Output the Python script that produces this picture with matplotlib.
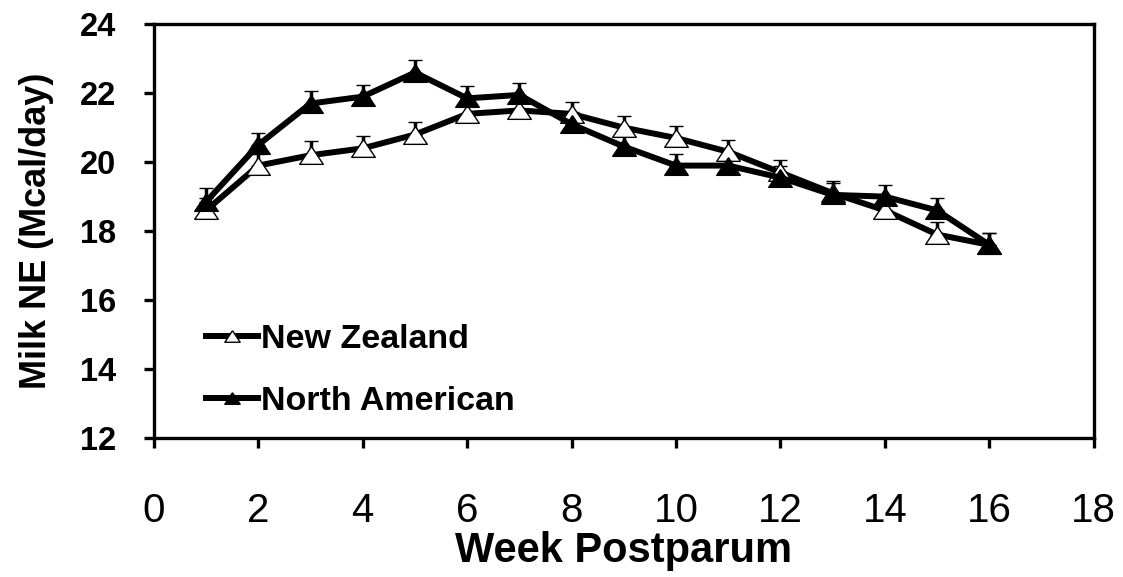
import numpy as np
import matplotlib.pyplot as plt

plt.rcParams['font.family'] = ['Liberation Sans', 'DejaVu Sans']

# Data
weeks = np.arange(1, 17)
nz_milk = [18.6, 19.9, 20.2, 20.4, 20.8, 21.4, 21.5, 21.4, 21.0, 20.7, 20.3, 19.7, 19.1, 18.6, 17.9, 17.6]
nz_err = [0.35, 0.35, 0.4, 0.35, 0.35, 0.35, 0.35, 0.35, 0.35, 0.35, 0.35, 0.35, 0.35, 0.35, 0.35, 0.35]
na_milk = [18.85, 20.5, 21.7, 21.9, 22.6, 21.85, 21.95, 21.1, 20.45, 19.9, 19.9, 19.55, 19.05, 19.0, 18.6, 17.6]
na_err = [0.4, 0.35, 0.35, 0.35, 0.35, 0.35, 0.35, 0.35, 0.35, 0.35, 0.35, 0.35, 0.35, 0.35, 0.35, 0.35]

# wide, flat triangle like the original markers
tri = [(0, 0.75), (-1, -0.75), (1, -0.75), (0, 0.75)]

fig = plt.figure(figsize=(11.23, 5.77), dpi=100)
ax = fig.add_axes([0.137, 0.241, 0.837, 0.717])

zeros = np.zeros(len(weeks))
ax.errorbar(weeks, nz_milk, yerr=[zeros, nz_err], color='black', lw=4.3,
            marker=tri, ms=17, mfc='white', mec='black', mew=1,
            ecolor='black', elinewidth=2.5, capsize=5, capthick=3,
            label='New Zealand')
ax.errorbar(weeks, na_milk, yerr=[zeros, na_err], color='black', lw=4.3,
            marker=tri, ms=17, mfc='black', mec='black', mew=1,
            ecolor='black', elinewidth=2.5, capsize=5, capthick=3,
            label='North American')

ax.set_xlim(0, 18)
ax.set_ylim(12, 24)
ax.set_xticks(range(0, 19, 2))
ax.set_yticks(range(12, 25, 2))

for s in ax.spines.values():
    s.set_linewidth(2.4)
ax.tick_params(axis='both', direction='out', length=7, width=2.4)
ax.tick_params(axis='x', labelsize=29, pad=32)
ax.tick_params(axis='y', labelsize=23.5, pad=20)
for lbl in ax.get_yticklabels():
    lbl.set_fontweight('bold')

ax.set_xlabel('Week Postparum', fontsize=30, fontweight='bold', labelpad=1)
ax.set_ylabel('Milk NE (Mcal/day)', fontsize=26, fontweight='bold', labelpad=19)

handles, labels = ax.get_legend_handles_labels()
handles = [h[0] for h in handles]
ax.legend(handles, labels, loc='upper left', bbox_to_anchor=(0.056, 0.275),
          frameon=False, prop={'weight': 'bold', 'size': 24.5},
          handlelength=1.5, handletextpad=0.1, labelspacing=0.9,
          borderaxespad=0, borderpad=0, markerscale=0.65)

fig.savefig('out.png', dpi=100)
